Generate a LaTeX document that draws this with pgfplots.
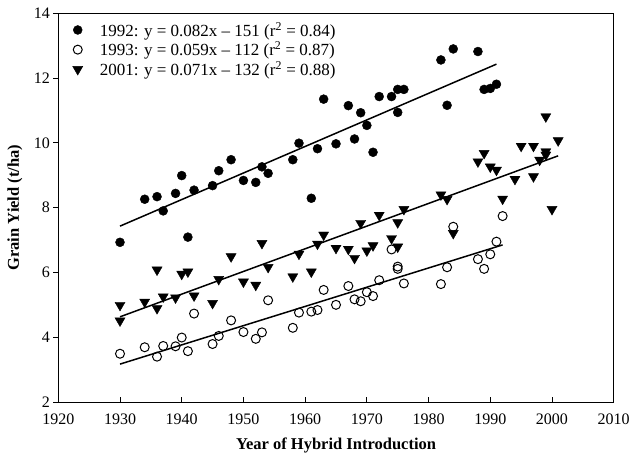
\documentclass[border=0pt]{standalone}
\usepackage{pgfplots}
\pgfplotsset{compat=1.18}
\usepackage{fontspec}
\setmainfont{Liberation Serif}

\begin{document}
\begin{tikzpicture}
\begin{axis}[
    scale only axis,
    width=555.4pt, height=388.7pt,
    xmin=1920, xmax=2010, ymin=2, ymax=14,
    xtick={1920,1930,...,2010},
    ytick={2,4,...,14},
    xticklabel style={/pgf/number format/1000 sep={}, yshift=-8pt},
    /pgf/number format/assume math mode=true,
    tick label style={font=\fontsize{16}{18}\selectfont},
    xtick pos=bottom, ytick pos=left,
    xtick align=inside, ytick align=outside,
    major tick length=5pt,
    tick style={black, line width=0.8pt},
    axis line style={line width=0.9pt},
    xlabel={\bfseries Year of Hybrid Introduction},
    ylabel={\bfseries Grain Yield (t/ha)},
    label style={font=\fontsize{16.5}{18}\selectfont},
    xlabel style={at={(axis description cs:0.5,-0.111)}, anchor=center},
    ylabel style={at={(axis description cs:-0.078,0.5)}, anchor=center},
    legend style={at={(axis description cs:0.022,0.988)}, anchor=north west,
        draw=none, fill=none, font=\fontsize{17}{19}\selectfont,
        row sep=0pt, inner sep=2pt,
        /tikz/every odd column/.append style={column sep=15pt}},
    legend cell align=left,
]
% 1992
\addplot[only marks, mark=*, mark size=4.5pt, black] coordinates {
(1930,6.93) (1934,8.26) (1936,8.34) (1937,7.90) (1939,8.44) (1940,8.99)
(1941,7.09) (1942,8.54) (1945,8.68) (1946,9.14) (1948,9.48) (1950,8.84)
(1952,8.78) (1953,9.26) (1954,9.06) (1958,9.48) (1959,9.99) (1961,8.29)
(1962,9.82) (1963,11.35) (1965,9.97) (1967,11.15) (1968,10.12) (1969,10.93)
(1970,10.54) (1971,9.71) (1972,11.43) (1974,11.43) (1975,11.65) (1975,10.94)
(1976,11.65) (1982,12.56) (1983,11.16) (1984,12.90) (1988,12.82) (1989,11.65)
(1990,11.68) (1991,11.81)
};
\addlegendentry{1992: y = 0.082x -- 151 (r\textsuperscript{2} = 0.84)}
% 1993
\addplot[only marks, mark=o, mark size=4.5pt, black, mark options={line width=1pt, fill=white}] coordinates {
(1930,3.49) (1934,3.69) (1936,3.40) (1937,3.73) (1939,3.72) (1940,3.99)
(1941,3.57) (1942,4.73) (1945,3.79) (1946,4.04) (1948,4.52) (1950,4.16)
(1952,3.95) (1953,4.15) (1954,5.14) (1958,4.29) (1959,4.76) (1961,4.79)
(1962,4.84) (1963,5.46) (1965,5.00) (1967,5.58) (1968,5.17) (1969,5.11)
(1970,5.39) (1971,5.27) (1972,5.76) (1974,6.71) (1975,6.18) (1975,6.11)
(1976,5.66) (1982,5.64) (1983,6.16) (1984,7.41) (1988,6.41) (1989,6.11)
(1990,6.56) (1991,6.95) (1992,7.74)
};
\addlegendentry{1993: y = 0.059x -- 112 (r\textsuperscript{2} = 0.87)}
% 2001
\addplot[only marks, mark=triangle*, mark size=5.8pt, black, mark options={rotate=180}] coordinates {
(1930,4.99) (1930,4.51) (1934,5.09) (1936,6.08) (1936,4.89) (1937,5.25)
(1939,5.22) (1940,5.95) (1941,6.02) (1942,5.28) (1945,5.05) (1946,5.79)
(1948,6.49) (1950,5.71) (1952,5.61) (1953,6.90) (1954,6.16) (1958,5.87)
(1959,6.57) (1961,6.02) (1962,6.88) (1963,7.16) (1965,6.75) (1967,6.72)
(1968,6.44) (1969,7.52) (1970,6.67) (1971,6.83) (1972,7.77) (1974,7.05)
(1975,6.79) (1975,7.54) (1976,7.95) (1982,8.40) (1983,8.26) (1984,7.21)
(1988,9.42) (1989,9.68) (1990,9.26) (1991,9.16) (1992,8.27) (1994,8.88)
(1995,9.90) (1997,9.90) (1997,8.96) (1998,9.47) (1999,10.81) (1999,9.73)
(1999,9.63) (2000,7.95) (2001,10.07)
};
\addlegendentry{2001: y = 0.071x -- 132 (r\textsuperscript{2} = 0.88)}
% regression lines
\addplot[forget plot, black, line width=1.5pt] coordinates {(1930,7.43) (1991,12.43)};
\addplot[forget plot, black, line width=1.5pt] coordinates {(1930,3.17) (1992,6.85)};
\addplot[forget plot, black, line width=1.5pt] coordinates {(1930,4.63) (2001,9.60)};
\end{axis}
\pgfresetboundingbox
\path ([shift={(-58.3pt,-53pt)}]current axis.south west) rectangle ([shift={(18.3pt,13.3pt)}]current axis.north east);
\end{tikzpicture}
\end{document}
